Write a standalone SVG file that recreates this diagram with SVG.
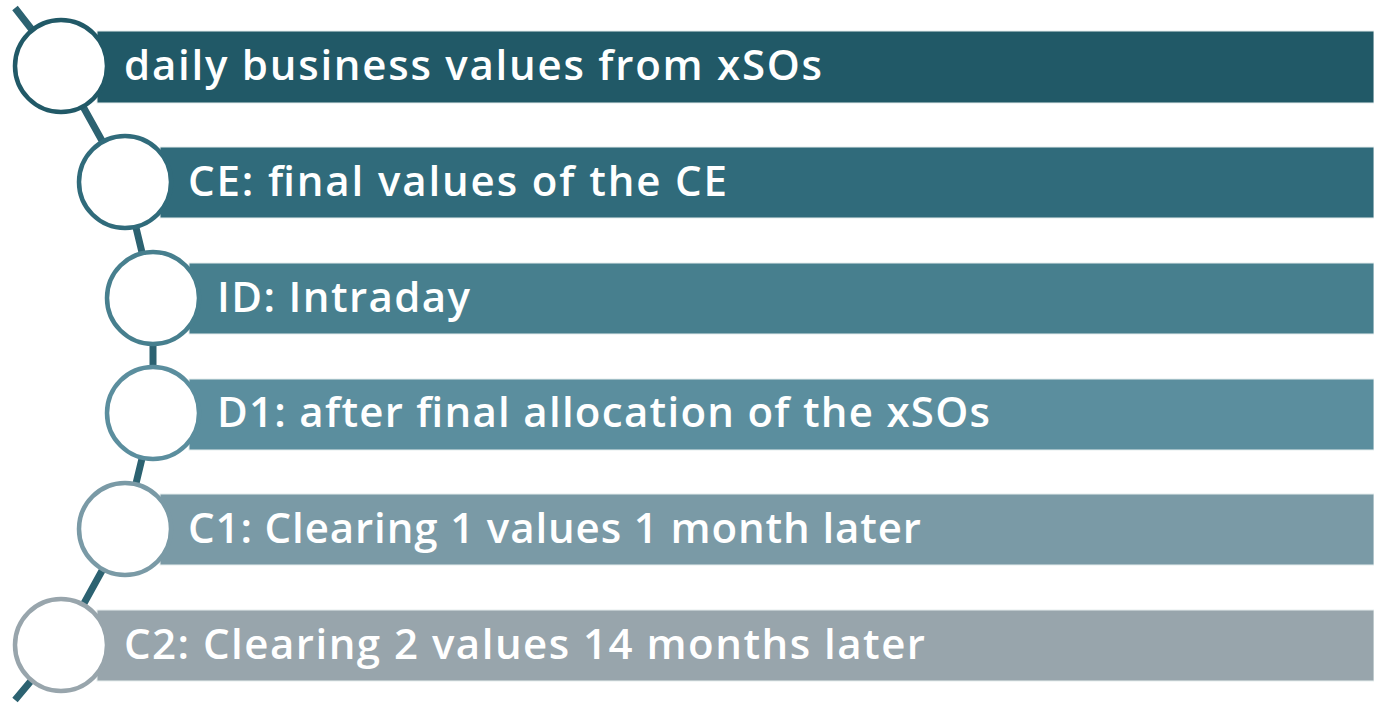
<svg xmlns="http://www.w3.org/2000/svg" width="1374" height="707" viewBox="0 0 1374 707">
<style>
.bar{stroke:#e6eeee;stroke-width:1}
.ring{fill:#fff;stroke-width:4.5}
.lbl{font-family:"Open Sans","Liberation Sans",sans-serif;font-weight:600;font-size:42px;fill:#fff}
</style>
<rect width="1374" height="707" fill="#fff"/>
<g id="connectors">
<path d="M15,8 L61,67 L125,182 L153,298 L153,413 L125,529 L61,645 L15,700" fill="none" stroke="#2c6271" stroke-width="7" stroke-linejoin="round"/>
</g>
<g id="n1"><rect class="bar" x="97" y="31" width="1277" height="72" fill="#215967"/><circle class="ring" cx="61" cy="66" r="46" stroke="#215967"/><text class="lbl" x="124" y="80" textLength="698" lengthAdjust="spacing">daily business values from xSOs</text></g>
<g id="n2"><rect class="bar" x="160" y="147" width="1214" height="71" fill="#306b7b"/><circle class="ring" cx="125" cy="182" r="46" stroke="#306b7b"/><text class="lbl" x="188" y="196" textLength="539" lengthAdjust="spacing">CE: final values of the CE</text></g>
<g id="n3"><rect class="bar" x="189" y="263" width="1185" height="71" fill="#477f8e"/><circle class="ring" cx="153" cy="298" r="46" stroke="#477f8e"/><text class="lbl" x="217" y="312" textLength="253" lengthAdjust="spacing">ID: Intraday</text></g>
<g id="n4"><rect class="bar" x="189" y="379" width="1185" height="71" fill="#5b8e9e"/><circle class="ring" cx="153" cy="413" r="46" stroke="#5b8e9e"/><text class="lbl" x="217" y="427" textLength="773" lengthAdjust="spacing">D1: after final allocation of the xSOs</text></g>
<g id="n5"><rect class="bar" x="160" y="494" width="1214" height="71" fill="#7a9aa6"/><circle class="ring" cx="125" cy="529" r="46" stroke="#7a9aa6"/><text class="lbl" x="188" y="543" textLength="733" lengthAdjust="spacing">C1: Clearing 1 values 1 month later</text></g>
<g id="n6"><rect class="bar" x="97" y="610" width="1277" height="71" fill="#98a5ac"/><circle class="ring" cx="61" cy="645" r="46" stroke="#98a5ac"/><text class="lbl" x="124" y="659" textLength="801" lengthAdjust="spacing">C2: Clearing 2 values 14 months later</text></g>
</svg>
